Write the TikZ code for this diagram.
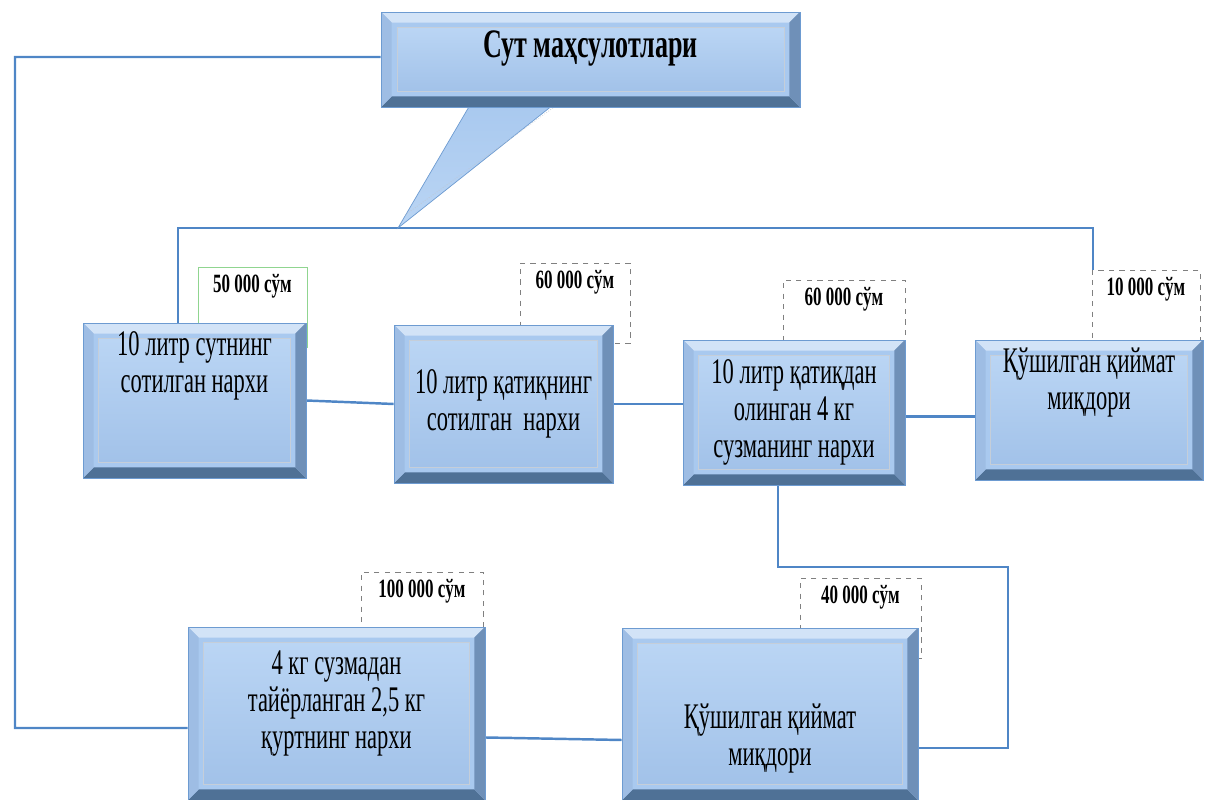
\documentclass[tikz,border=0pt]{standalone}
\usepackage{fontspec}
\setmainfont{Liberation Serif}[FakeStretch=0.645]
\newfontfamily\boxfont{Liberation Serif}[FakeStretch=0.625]
\usetikzlibrary{positioning, backgrounds}

\definecolor{wireblue}{HTML}{4F86C6}
\definecolor{boxedge}{HTML}{6D9BD1}
\definecolor{boxfill}{HTML}{A9C9EF}
\definecolor{boxtop}{HTML}{D2E3F7}
\definecolor{boxbot}{HTML}{4F7196}
\definecolor{boxright}{HTML}{6F90B8}
\definecolor{boxleft}{HTML}{9EBDE4}
\definecolor{paneltop}{HTML}{BAD5F4}
\definecolor{panelbot}{HTML}{A2C2E9}

\tikzset{
  wire/.style={draw=wireblue, line width=1.4pt},
  bevelbox/.style={draw=boxedge, fill=boxfill, line width=0.4pt, align=center,
    font=\boxfont\fontsize{20.5}{21}\selectfont, inner sep=0pt,
    path picture={
      \coordinate (pnw) at (path picture bounding box.north west);
      \coordinate (pne) at (path picture bounding box.north east);
      \coordinate (psw) at (path picture bounding box.south west);
      \coordinate (pse) at (path picture bounding box.south east);
      \fill[boxtop] (pnw) -- (pne) -- ([shift={(-6pt,-6pt)}]pne) -- ([shift={(6pt,-6pt)}]pnw) -- cycle;
      \fill[boxbot] (psw) -- (pse) -- ([shift={(-6pt,6pt)}]pse) -- ([shift={(6pt,6pt)}]psw) -- cycle;
      \fill[boxright] (pne) -- (pse) -- ([shift={(-6pt,6pt)}]pse) -- ([shift={(-6pt,-6pt)}]pne) -- cycle;
      \fill[boxleft] (pnw) -- (psw) -- ([shift={(6pt,6pt)}]psw) -- ([shift={(6pt,-6pt)}]pnw) -- cycle;
      \shade[top color=paneltop, bottom color=panelbot, draw=boxleft!70!black!40]
        ([shift={(9pt,-9pt)}]pnw) rectangle ([shift={(-9pt,9pt)}]pse);
    }},
  pricebox/.style={draw=gray, dashed, line width=0.5pt, fill=white, anchor=north,
    font=\bfseries\fontsize{15}{15}\selectfont, text height=11pt, text depth=28pt,
    minimum width=#1},
}

\begin{document}
\begin{tikzpicture}[x=0.02cm, y=-0.02cm]
\useasboundingbox (0,0) rectangle (1205,800);

\coordinate (busL) at (178,228);
\coordinate (busR) at (1093,228);
\coordinate (tip) at (398,228);
\coordinate (loopL) at (15,57);
\coordinate (loopD) at (778,567);
\coordinate (loopE) at (1008,567);

% callout tail
\shade[top color=boxfill, bottom color=paneltop, draw=boxedge]
  (470,105) -- (tip) -- (553,105) -- cycle;
\draw[boxleft!60!black!40, densely dotted] (553,108) -- (405,215);

% boxes
\node[bevelbox, minimum width=8.38cm, minimum height=1.9cm, text depth=18pt,
  font=\bfseries\fontsize{23}{23}\selectfont] (title) at (590.5,59.5) {Сут маҳсулотлари};
\node[bevelbox, minimum width=4.46cm, minimum height=3.1cm, text depth=44pt] (b1) at (194.5,400.5)
  {10 литр сутнинг\\ сотилган нархи};
\node[bevelbox, minimum width=4.38cm, minimum height=3.16cm] (b2) at (503.5,404)
  {10 литр қатиқнинг\\ сотилган\ \ нархи};
\node[bevelbox, minimum width=4.44cm, minimum height=2.9cm] (b3) at (794,412.5)
  {10 литр қатиқдан\\ олинган 4 кг\\ сузманинг нархи};
\node[bevelbox, minimum width=4.56cm, minimum height=2.8cm, text depth=36pt] (b4) at (1089,410)
  {Қўшилган қиймат\\ миқдори};
\node[bevelbox, minimum width=5.94cm, minimum height=3.46cm, text depth=16pt] (b5) at (336.5,713.5)
  {4 кг сузмадан\\ тайёрланган 2,5 кг\\ қуртнинг нархи};
\node[bevelbox, minimum width=5.92cm, minimum height=3.44cm, text height=63pt] (b6) at (770,714)
  {Қўшилган қиймат\\ миқдори};

\begin{scope}[on background layer]
% connectors
\draw[wire] (b1.north -| busL) -- (busL) -- (busR) -- (busR |- b4.north);
\draw[wire] (title.west |- loopL) -- (loopL) -- (loopL |- 0,728) -- ([yshift=-0.29cm]b5.west);
\draw[wire] (b1.east) -- (b2.west);
\draw[wire] (b2.east) -- (b2.east -| b3.west);
\draw[wire] ([yshift=-0.08cm]b3.east) -- ([yshift=-0.08cm]b3.east -| b4.west);
\draw[wire] (b3.south -| loopD) -- (loopD) -- (loopE) -- (loopE |- 0,748) -- (b6.east |- 0,748);
\draw[wire] ([yshift=-0.48cm]b5.east) -- ([yshift=-0.52cm]b6.west);

% price labels
\node[pricebox=2.18cm, draw=green!45!gray!60, solid] (p1) at (252.5,267) {50 000 сўм};
\node[pricebox=2.2cm] (p2) at (575,263) {60 000 сўм};
\node[pricebox=2.44cm] (p3) at (844,280) {60 000 сўм};
\node[pricebox=2.16cm] (p4) at (1146,270) {10 000 сўм};
\node[pricebox=2.44cm] (p5) at (422,572) {100 000 сўм};
\node[pricebox=2.42cm] (p6) at (860.5,578) {40 000 сўм};
\end{scope}
\end{tikzpicture}
\end{document}
